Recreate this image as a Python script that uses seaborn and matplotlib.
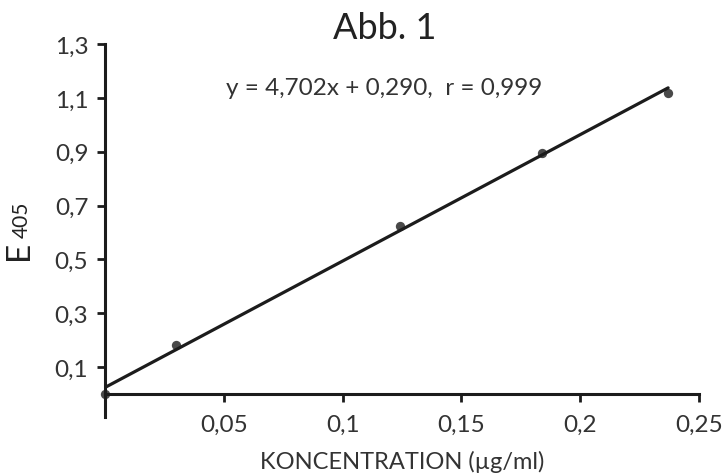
import matplotlib
matplotlib.use("Agg")
import matplotlib.pyplot as plt
import seaborn as sns
import pandas as pd
import numpy as np
from matplotlib.ticker import FixedLocator, FuncFormatter

# measured calibration points
konzentration = [0.0, 0.030, 0.124, 0.184, 0.237]
extinktion = [0.0, 0.181, 0.626, 0.896, 1.119]

x_ticks = [0.05, 0.10, 0.15, 0.20, 0.25]
y_ticks = [0.1, 0.3, 0.5, 0.7, 0.9, 1.1, 1.3]

title = "Abb. 1"
equation = "y = 4,702x + 0,290,  r = 0,999"
x_label = "KONCENTRATION (µg/ml)"

df = pd.DataFrame({"konz": konzentration, "E405": extinktion})

sns.set_theme(style="white")
plt.rcParams["font.family"] = ["Lato", "DejaVu Sans"]
ink = "#1c1c1c"

fig = plt.figure(figsize=(7.24, 4.77), dpi=100)
ax = fig.add_axes([0.145, 0.1237, 0.8205, 0.782])

sns.regplot(data=df, x="konz", y="E405", ax=ax, ci=None, color=ink,
            scatter_kws={"s": 45, "linewidths": 0, "zorder": 4, "clip_on": False},
            line_kws={"lw": 2.3})

ax.set_xlim(0, 0.25)
ax.set_ylim(-0.085, 1.3)

for s in ["top", "right"]:
    ax.spines[s].set_visible(False)
ax.spines["bottom"].set_position(("data", 0))
for s in ["left", "bottom"]:
    ax.spines[s].set_linewidth(2.2)
    ax.spines[s].set_color(ink)

fmt = FuncFormatter(lambda v, p: f"{v:g}".replace(".", ","))
ax.xaxis.set_major_locator(FixedLocator(x_ticks))
ax.yaxis.set_major_locator(FixedLocator(y_ticks))
ax.xaxis.set_major_formatter(fmt)
ax.yaxis.set_major_formatter(fmt)
ax.tick_params(axis="x", direction="out", length=6, width=2, color=ink,
               labelsize=17.5, labelcolor="#333333", pad=8, bottom=True)
ax.tick_params(axis="y", direction="out", length=6, width=2, color=ink,
               labelsize=17.5, labelcolor="#333333", pad=6, left=True)

ax.set_xlabel("")
ax.set_ylabel("")

fig.text(0.532, 0.941, title, ha="center", va="center", fontsize=26, color="#222222")
fig.text(0.530, 0.8155, equation, ha="center", va="center", fontsize=17.5, color="#333333")
fig.text(0.555, 0.008, x_label, ha="center", va="bottom", fontsize=17, color="#333333")
fig.text(0.047, 0.455, "E", rotation=90, ha="right", va="bottom", fontsize=24, color="#222222")
fig.text(0.044, 0.500, "405", rotation=90, ha="right", va="bottom", fontsize=15, color="#222222")

fig.savefig("out.png", dpi=100)
